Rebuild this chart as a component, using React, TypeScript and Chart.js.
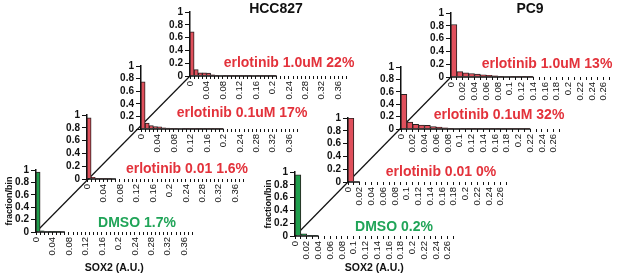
import React, { useEffect, useRef } from "react";
import { Chart, registerables } from "chart.js";

Chart.register(...registerables);

const FONT = "'Liberation Sans', Arial, sans-serif";
const BIN_WIDTH = 0.01;

// fraction per 0.01-wide SOX2 bin
const hccDmso = [0.965, 0.02, 0.008, 0.004, 0.002, 0.001];
const hccErl001 = [0.955, 0.025, 0.01, 0.005, 0.003, 0.002];
const hccErl01 = [0.75, 0.095, 0.055, 0.04, 0.035, 0.02, 0.015, 0.01, 0.01, 0.008, 0.006, 0.005, 0.004, 0.004, 0.003, 0.003, 0.002, 0.002, 0.001, 0.001];
const hccErl10 = [0.69, 0.1, 0.05, 0.05, 0.045, 0.02, 0.01, 0.008, 0.006, 0.005, 0.004, 0.004, 0.003, 0.003, 0.002, 0.008, 0.002, 0.001, 0.001, 0.001, 0.001];
const pc9Dmso = [0.955, 0.035, 0.005, 0.003];
const pc9Erl001 = [1.0];
const pc9Erl01 = [0.56, 0.11, 0.075, 0.065, 0.06, 0.04, 0.03, 0.02, 0.012, 0.008, 0.006, 0.005, 0.004, 0.003, 0.002, 0.002, 0.002, 0.001, 0.001, 0.001, 0.001, 0.001];
const pc9Erl10 = [0.82, 0.085, 0.065, 0.055, 0.045, 0.035, 0.025, 0.018, 0.012, 0.008, 0.005, 0.004, 0.003, 0.002];

// extent of the solid baseline (SOX2 units)
const hccExtents = [0.07, 0.07, 0.2, 0.21];
const pc9Extents = [0.04, 0.02, 0.22, 0.14];

const HCC_X_MAX = 0.38;
const PC9_X_MAX = 0.27;
const HCC_LABEL_EVERY = 4; // label every 0.04
const PC9_LABEL_EVERY = 2; // label every 0.02

const conditionLabels = ["DMSO", "erlotinib 0.01", "erlotinib 0.1uM", "erlotinib 1.0uM"];
const hccPercents = ["1.7%", "1.6%", "17%", "22%"];
const pc9Percents = ["0.2%", "0%", "32%", "13%"];

const RED = "#e0505c";
const GREEN = "#1f9e4d";
const RED_TEXT = "#e3323b";
const GREEN_TEXT = "#20a458";

type PanelDef = {
  values: number[];
  extent: number;
  xMax: number;
  labelEvery: number;
  pxPerUnit: number;
  ox: number;
  oy: number;
  h: number;
  color: string;
  titles: boolean;
  xh: number;
};

const HCC_PX = 422;
const PC9_PX = 600;

const panels: PanelDef[] = [
  { values: hccDmso, extent: hccExtents[0], xMax: HCC_X_MAX, labelEvery: HCC_LABEL_EVERY, pxPerUnit: HCC_PX, ox: 36, oy: 232, h: 62, color: GREEN, titles: true, xh: 42 },
  { values: hccErl001, extent: hccExtents[1], xMax: HCC_X_MAX, labelEvery: HCC_LABEL_EVERY, pxPerUnit: HCC_PX, ox: 87, oy: 179, h: 64, color: RED, titles: false, xh: 30 },
  { values: hccErl01, extent: hccExtents[2], xMax: HCC_X_MAX, labelEvery: HCC_LABEL_EVERY, pxPerUnit: HCC_PX, ox: 141, oy: 129, h: 63, color: RED, titles: false, xh: 30 },
  { values: hccErl10, extent: hccExtents[3], xMax: HCC_X_MAX, labelEvery: HCC_LABEL_EVERY, pxPerUnit: HCC_PX, ox: 190, oy: 76, h: 64, color: RED, titles: false, xh: 30 },
  { values: pc9Dmso, extent: pc9Extents[0], xMax: PC9_X_MAX, labelEvery: PC9_LABEL_EVERY, pxPerUnit: PC9_PX, ox: 295, oy: 236, h: 64, color: GREEN, titles: true, xh: 38 },
  { values: pc9Erl001, extent: pc9Extents[1], xMax: PC9_X_MAX, labelEvery: PC9_LABEL_EVERY, pxPerUnit: PC9_PX, ox: 348, oy: 182, h: 64, color: RED, titles: false, xh: 30 },
  { values: pc9Erl01, extent: pc9Extents[2], xMax: PC9_X_MAX, labelEvery: PC9_LABEL_EVERY, pxPerUnit: PC9_PX, ox: 401, oy: 129, h: 62, color: RED, titles: false, xh: 30 },
  { values: pc9Erl10, extent: pc9Extents[3], xMax: PC9_X_MAX, labelEvery: PC9_LABEL_EVERY, pxPerUnit: PC9_PX, ox: 451, oy: 77, h: 64, color: RED, titles: false, xh: 30 },
];

const PT = 8;
const PR = 10;

function Panel({ p }: { p: PanelDef }) {
  const ref = useRef<HTMLCanvasElement | null>(null);
  const YW = p.titles ? 36 : 28;
  const pw = Math.round(p.xMax * p.pxPerUnit);
  const W = YW + pw + PR;
  const H = PT + p.h + p.xh;

  useEffect(() => {
    if (!ref.current) return;
    const chart = new Chart(ref.current, {
      type: "bar",
      data: {
        datasets: [
          {
            type: "bar",
            data: p.values.map((v, i) => ({ x: (i + 0.5) * BIN_WIDTH, y: v })),
            backgroundColor: p.color,
            borderColor: "#2a2020",
            borderWidth: 1,
            barPercentage: 1,
            categoryPercentage: 1,
            order: 1,
          } as any,
          {
            type: "line",
            data: [
              { x: 0, y: 0 },
              { x: p.extent, y: 0 },
            ],
            borderColor: "#111",
            borderWidth: 1.5,
            pointRadius: 0,
            clip: false,
            order: 0,
          } as any,
        ],
      },
      options: {
        responsive: false,
        animation: false,
        devicePixelRatio: 1,
        layout: { padding: { left: 0, right: PR, top: PT, bottom: 0 } },
        plugins: { legend: { display: false }, tooltip: { enabled: false } },
        scales: {
          x: {
            type: "linear",
            min: 0,
            max: p.xMax,
            offset: false,
            grid: {
              display: true,
              offset: false,
              drawOnChartArea: false,
              drawTicks: true,
              tickLength: 3,
              color: "#111",
              lineWidth: 1,
            },
            border: { display: false },
            ticks: {
              stepSize: BIN_WIDTH,
              autoSkip: false,
              minRotation: 90,
              maxRotation: 90,
              padding: 2,
              color: "#111",
              font: { family: FONT, size: 9.5 },
              callback: (v: any) => {
                const k = Math.round(Number(v) * 100);
                return k % p.labelEvery === 0 ? String(k / 100) : "";
              },
            },
            title: p.titles
              ? {
                  display: true,
                  text: "SOX2 (A.U.)",
                  color: "#111",
                  font: { family: FONT, size: 10.5, weight: "bold" },
                  padding: { top: 0, bottom: 0 },
                }
              : { display: false },
            afterFit: (s: any) => {
              s.height = p.xh;
            },
          } as any,
          y: {
            min: 0,
            max: 1,
            grid: {
              drawOnChartArea: false,
              drawTicks: true,
              tickLength: 5,
              color: "#111",
              lineWidth: 1,
            },
            border: { display: true, color: "#111", width: 1.5 },
            ticks: {
              stepSize: 0.2,
              autoSkip: false,
              padding: 2,
              color: "#111",
              font: { family: FONT, size: 10, weight: "bold" },
              callback: (v: any) => String(Number(Number(v).toFixed(1))),
            },
            title: p.titles
              ? {
                  display: true,
                  text: "fraction/bin",
                  color: "#111",
                  font: { family: FONT, size: 9, weight: "bold" },
                  padding: { top: 4, bottom: 0 },
                }
              : { display: false },
            afterFit: (s: any) => {
              s.width = YW;
            },
          } as any,
        },
      },
    });
    return () => chart.destroy();
  }, []);

  return (
    <canvas
      ref={ref}
      width={W}
      height={H}
      style={{
        position: "absolute",
        left: p.ox - YW,
        top: p.oy - p.h - PT,
        width: W,
        height: H,
      }}
    />
  );
}

type TextDef = { text: string; x: number; y: number; color: string };

const texts: TextDef[] = [
  { text: "HCC827", x: 276, y: 8, color: "#111" },
  { text: "PC9", x: 530, y: 8, color: "#111" },
  { text: `${conditionLabels[0]} ${hccPercents[0]}`, x: 137, y: 222, color: GREEN_TEXT },
  { text: `${conditionLabels[1]} ${hccPercents[1]}`, x: 187, y: 168, color: RED_TEXT },
  { text: `${conditionLabels[2]} ${hccPercents[2]}`, x: 242, y: 112, color: RED_TEXT },
  { text: `${conditionLabels[3]} ${hccPercents[3]}`, x: 289, y: 62, color: RED_TEXT },
  { text: `${conditionLabels[0]} ${pc9Percents[0]}`, x: 394, y: 226, color: GREEN_TEXT },
  { text: `${conditionLabels[1]} ${pc9Percents[1]}`, x: 441, y: 171, color: RED_TEXT },
  { text: `${conditionLabels[2]} ${pc9Percents[2]}`, x: 499, y: 114, color: RED_TEXT },
  { text: `${conditionLabels[3]} ${pc9Percents[3]}`, x: 547, y: 63, color: RED_TEXT },
];

export default function App() {
  const hccFirst = panels[0];
  const hccLast = panels[3];
  const pcFirst = panels[4];
  const pcLast = panels[7];
  return (
    <div
      style={{
        position: "fixed",
        left: 0,
        top: 0,
        width: 617,
        height: 278,
        background: "#fff",
        overflow: "hidden",
      }}
    >
      <svg width={617} height={278} style={{ position: "absolute", left: 0, top: 0 }}>
        <line x1={hccFirst.ox} y1={hccFirst.oy} x2={hccLast.ox} y2={hccLast.oy} stroke="#111" strokeWidth={1.2} />
        <line x1={pcFirst.ox} y1={pcFirst.oy} x2={pcLast.ox} y2={pcLast.oy} stroke="#111" strokeWidth={1.2} />
      </svg>
      {panels.map((p, i) => (
        <Panel key={i} p={p} />
      ))}
      {texts.map((t, i) => (
        <div
          key={i}
          style={{
            position: "absolute",
            left: t.x,
            top: t.y,
            transform: "translate(-50%, -50%)",
            whiteSpace: "nowrap",
            fontFamily: FONT,
            fontWeight: "bold",
            fontSize: 14,
            lineHeight: 1,
            color: t.color,
          }}
        >
          {t.text}
        </div>
      ))}
    </div>
  );
}
